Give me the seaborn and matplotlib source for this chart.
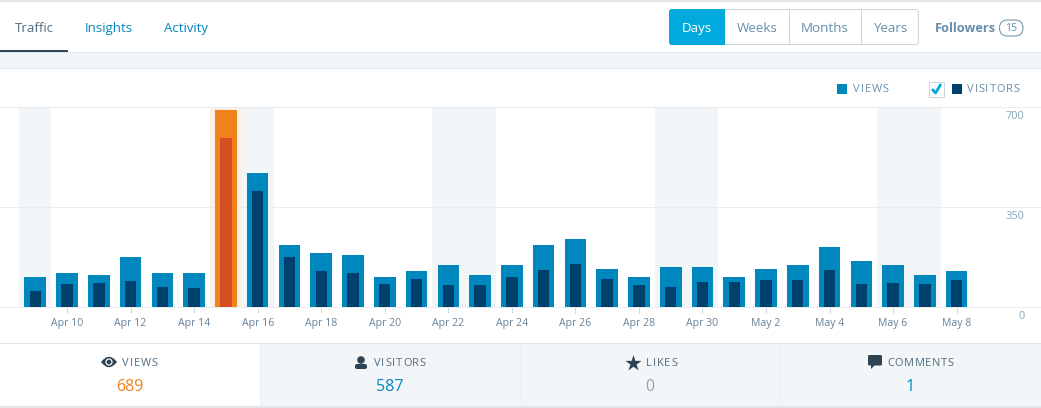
import matplotlib
matplotlib.use("Agg")
import matplotlib.pyplot as plt
import seaborn as sns
from matplotlib.patches import Rectangle, FancyBboxPatch, Circle, Polygon, PathPatch
from matplotlib.path import Path
from matplotlib.transforms import ScaledTranslation

W, H = 1041, 408

days = ["Apr 9", "Apr 10", "Apr 11", "Apr 12", "Apr 13", "Apr 14", "Apr 15", "Apr 16", "Apr 17", "Apr 18",
        "Apr 19", "Apr 20", "Apr 21", "Apr 22", "Apr 23", "Apr 24", "Apr 25", "Apr 26", "Apr 27", "Apr 28",
        "Apr 29", "Apr 30", "May 1", "May 2", "May 3", "May 4", "May 5", "May 6", "May 7", "May 8"]
views = [104, 118, 111, 174, 118, 118, 689, 468, 216, 189,
         182, 105, 126, 147, 112, 147, 217, 238, 133, 105,
         140, 140, 105, 133, 147, 210, 161, 147, 112, 126]
visitors = [55, 80, 83, 90, 69, 65, 590, 405, 174, 126,
            119, 80, 98, 77, 77, 105, 130, 150, 98, 77,
            70, 88, 88, 95, 95, 130, 80, 84, 80, 95]
weekend = ["Apr 9", "Apr 16", "Apr 22", "Apr 23", "Apr 29", "Apr 30", "May 6", "May 7"]
highlight = "Apr 15"
y_ticks = [0, 350, 700]

BLUE = "#0087be"
NAVY = "#00406c"
ORANGE = "#f0821e"
RUST = "#d54e21"
PALE = "#f3f6f8"
LINE = "#dfe7ed"
GRID = "#e9edf0"
SLATE = "#668eaa"
INK = "#2e4453"
LABEL = "#4f6b80"

sns.set_style("white")
plt.rcParams["font.family"] = ["Open Sans", "DejaVu Sans"]

fig = plt.figure(figsize=(W / 100, H / 100), dpi=100)

# page furniture lives in an axes measured in pixels
bg = fig.add_axes([0, 0, 1, 1], zorder=0)
bg.set_xlim(0, W)
bg.set_ylim(H, 0)
bg.axis("off")


def px(size):
    return size * 0.72


def rect(x0, y0, x1, y1, color, z=1):
    bg.add_patch(Rectangle((x0, y0), x1 - x0, y1 - y0, fc=color, ec="none", zorder=z))


def label(x, y, s, size, color, **kw):
    bg.text(x, y, s, fontsize=px(size), color=color, ha="center", va="center", **kw)


def spaced(x, y, s, size, color, gap):
    # matplotlib has no letter spacing, so place the letters one by one
    rend = fig.canvas.get_renderer()
    for ch in s:
        t = bg.text(x, y, ch, fontsize=px(size), color=color, va="center", ha="left")
        x += t.get_window_extent(rend).width + gap


rect(0, 0, W, 2, LINE)
rect(0, 52, W, 69, PALE)
rect(0, 52, W, 53, LINE)
rect(0, 68, W, 69, LINE)
rect(0, 343, W, 344, LINE)
rect(260, 344, W, 407, PALE)
rect(0, 406, W, 408, LINE)
for xp in [260, 520, 780]:
    rect(xp, 344, xp + 1, 407, "#e9eff3", 2)
rect(0, 50, 68, 52, INK, 2)

label(34, 28.5, "Traffic", 13.2, LABEL)
label(108.5, 28.5, "Insights", 13.2, BLUE)
label(186.5, 28.5, "Activity", 13.2, BLUE)

# Days / Weeks / Months / Years switch
bg.add_patch(FancyBboxPatch((669.5, 9.5), 249, 35, boxstyle="round,pad=0,rounding_size=3",
                            fc="white", ec="#c8d7e1", lw=0.72))
bg.add_patch(FancyBboxPatch((669, 9), 56, 36, boxstyle="round,pad=0,rounding_size=3",
                            fc="#00aadc", ec="none", zorder=3))
rect(715, 9, 725, 45, "#00aadc", 3)
for xp in [789, 861]:
    rect(xp, 10, xp + 1, 44, "#c8d7e1", 2)
label(697, 28.5, "Days", 13.4, "white", zorder=4)
label(757, 28.5, "Weeks", 13.4, SLATE)
label(825, 28.5, "Months", 13.4, SLATE)
label(890, 28.5, "Years", 13.4, SLATE)
label(965.5, 28.5, "Followers", 12.8, SLATE, fontweight="bold")
bg.add_patch(FancyBboxPatch((999.5, 20), 23.5, 16, boxstyle="round,pad=0,rounding_size=8",
                            fc="white", ec=SLATE, lw=0.72))
label(1011.5, 28.5, "15", 10.5, SLATE)

# chart legend
rect(837, 84, 847, 94, BLUE)
spaced(853, 90, "VIEWS", 11, SLATE, 0.9)
bg.add_patch(Rectangle((928.5, 81.5), 15, 15, fc="white", ec="#c8d7e1", lw=0.72))
bg.plot([932, 935.5, 941], [89, 93, 84], color="#00aadc", lw=2, solid_capstyle="butt")
rect(952, 84, 962, 94, NAVY)
spaced(967, 90, "VISITORS", 11, SLATE, 0.9)

# bars go through seaborn, on an axes 200 px tall that holds 0-700
ax = fig.add_axes([0, (H - 307) / H, 1, 200 / H], zorder=1)
ax.patch.set_alpha(0)
sns.barplot(x=days, y=views, color=BLUE, width=0.68, saturation=1, linewidth=0, ax=ax)
sns.barplot(x=days, y=visitors, color=NAVY, width=0.36, saturation=1, linewidth=0, ax=ax)
hi = days.index(highlight)
ax.patches[hi].set_facecolor(ORANGE)
ax.patches[len(days) + hi].set_facecolor(RUST)

for d in weekend:
    i = days.index(d)
    ax.axvspan(i - 0.5, i + 0.5, color=PALE, lw=0, zorder=0)
ax.axvspan(hi - 0.5, hi + 0.5, color="#fdf0e6", lw=0, zorder=0)

ax.set_xlim(-35.3 / 31.77, (W - 35.3) / 31.77)
ax.set_ylim(0, 700)
ax.set_xlabel("")
ax.set_ylabel("")
ax.set_xticks(range(1, len(days), 2))
ax.set_xticklabels(days[1::2])
ax.set_yticks(y_ticks)
ax.set_axisbelow(True)
ax.grid(axis="y", color=GRID, lw=0.72)
for side in ["left", "right"]:
    ax.spines[side].set_visible(False)
for side in ["top", "bottom"]:
    ax.spines[side].set_color(GRID)
    ax.spines[side].set_linewidth(0.72)
ax.tick_params(axis="x", length=4, width=0.72, color="#c8d7e1", labelsize=px(10.5),
               labelcolor="#668299", pad=4, bottom=True)
ax.tick_params(axis="y", left=False, right=False, labelleft=False, labelright=True,
               labelsize=px(11), labelcolor="#87a6bc", pad=-15.5)
shift = ScaledTranslation(0, -4 / 100, fig.dpi_scale_trans)
for tick in ax.yaxis.get_major_ticks():
    tick.label2.set_ha("right")
    tick.label2.set_va("top")
    tick.label2.set_transform(tick.label2.get_transform() + shift)

# summary tabs at the bottom
spaced(122, 364, "VIEWS", 11, LABEL, 0.9)
spaced(374, 364, "VISITORS", 11, LABEL, 0.8)
spaced(646, 364, "LIKES", 11, LABEL, 0.9)
spaced(887, 364, "COMMENTS", 11, LABEL, 0.7)
label(129.5, 387, "689", 16, ORANGE)
label(389.5, 387, "587", 16, BLUE)
label(650, 387, "0", 16, "#87a6bc")
label(910, 387, "1", 16, BLUE)

# eye
eye = Path([(101, 362), (109, 351.5), (117, 362), (109, 372.5), (101, 362)],
           [Path.MOVETO, Path.CURVE3, Path.CURVE3, Path.CURVE3, Path.CURVE3])
bg.add_patch(PathPatch(eye, fc=INK, ec="none", zorder=3))
bg.add_patch(Circle((109, 362), 3.6, fc="white", ec="none", zorder=4))
bg.add_patch(Circle((109, 362), 2.4, fc=INK, ec="none", zorder=5))
# person
bg.add_patch(Circle((361, 360), 3.8, fc=INK, ec="none", zorder=3))
bg.add_patch(FancyBboxPatch((355, 364), 12, 5, boxstyle="round,pad=0,rounding_size=2",
                            fc=INK, ec="none", zorder=3))
# star
bg.scatter([633], [362.5], marker="*", s=150, color=INK, lw=0, zorder=3)
# speech bubble
bg.add_patch(FancyBboxPatch((868, 355), 14, 10.5, boxstyle="round,pad=0,rounding_size=1.5",
                            fc=INK, ec="none", zorder=3))
bg.add_patch(Polygon([(871, 365), (875, 365), (871, 369)], fc=INK, ec="none", zorder=3))

fig.savefig("out.png", dpi=100)
